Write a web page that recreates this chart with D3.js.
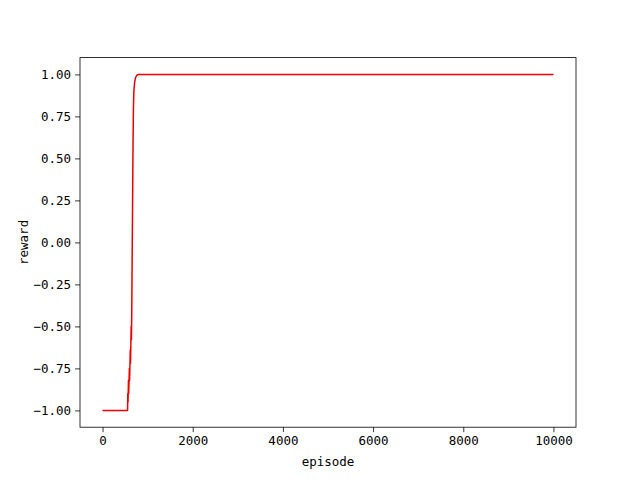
<!DOCTYPE html>
<html>
<head>
<meta charset="utf-8">
<script src="https://cdn.jsdelivr.net/npm/d3@7"></script>
<style>
  html, body { margin: 0; padding: 0; background: #fff; }
  svg { display: block; }
  text { font-family: "DejaVu Sans Mono", monospace; }
</style>
</head>
<body>
<svg id="chart" width="640" height="480"></svg>
<script>
// Data
const episodes = [0, 555, 560, 565, 575, 580, 595, 600, 615, 620, 635, 640, 648, 655, 665, 675, 685, 695, 710, 730, 760, 800, 10000];
const rewards  = [-1, -1, -0.90, -0.95, -0.82, -0.90, -0.75, -0.82, -0.64, -0.72, -0.50, -0.58, -0.42, -0.15, 0.2, 0.55, 0.8, 0.9, 0.95, 0.98, 0.995, 1.0, 1.0];
const xTicks = [0, 2000, 4000, 6000, 8000, 10000];
const yTicks = [-1.00, -0.75, -0.50, -0.25, 0.00, 0.25, 0.50, 0.75, 1.00];
const xLabel = "episode";
const yLabel = "reward";

const svg = d3.select("#chart");
const W = 640, H = 480;
const m = { left: 80, right: 64, top: 57.6, bottom: 52.8 };
const iw = W - m.left - m.right, ih = H - m.top - m.bottom;

const x = d3.scaleLinear().domain([-500, 10500]).range([m.left, m.left + iw]);
const y = d3.scaleLinear().domain([-1.1, 1.1]).range([m.top + ih, m.top]);

const data = episodes.map((e, i) => ({ e, r: rewards[i] }));

svg.append("path")
  .datum(data)
  .attr("fill", "none")
  .attr("stroke", "#ee0000")
  .attr("stroke-width", 1.5)
  .attr("stroke-linejoin", "round")
  .attr("d", d3.line().x(d => x(d.e)).y(d => y(d.r)));

const fs = 12.5;
const xAxis = svg.append("g")
  .attr("transform", `translate(0,${m.top + ih})`)
  .call(d3.axisBottom(x).tickValues(xTicks).tickFormat(d3.format("d")).tickSize(4.9).tickPadding(4));
const yAxis = svg.append("g")
  .attr("transform", `translate(${m.left},0)`)
  .call(d3.axisLeft(y).tickValues(yTicks).tickFormat(d3.format(".2f")).tickSize(4.9).tickPadding(4));

[xAxis, yAxis].forEach(g => {
  g.select(".domain").remove();
  g.selectAll("line").attr("stroke", "#000").attr("stroke-width", 0.8);
  g.selectAll("text").attr("fill", "#000").style("font-size", fs + "px").style("font-family", '"DejaVu Sans Mono", monospace');
});
yAxis.selectAll("text").text(d => d3.format(".2f")(d).replace("-", "\u2212"));

svg.append("rect")
  .attr("x", m.left).attr("y", m.top)
  .attr("width", iw).attr("height", ih)
  .attr("fill", "none").attr("stroke", "#000").attr("stroke-width", 0.8);

svg.append("text")
  .attr("x", m.left + iw / 2).attr("y", 466)
  .attr("text-anchor", "middle")
  .style("font-size", fs + "px")
  .text(xLabel);

svg.append("text")
  .attr("transform", `translate(28,${m.top + ih / 2}) rotate(-90)`)
  .attr("text-anchor", "middle")
  .style("font-size", fs + "px")
  .text(yLabel);
</script>
</body>
</html>
